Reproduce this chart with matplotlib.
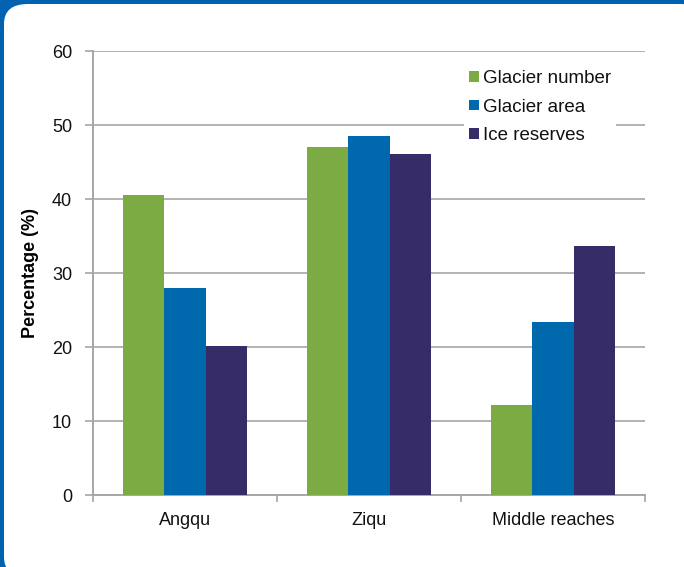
import matplotlib.pyplot as plt
import numpy as np
from matplotlib.patches import FancyBboxPatch

plt.rcParams['font.family'] = ['Liberation Sans', 'DejaVu Sans']
plt.rcParams['text.color'] = '#111111'
plt.rcParams['xtick.labelcolor'] = '#111111'
plt.rcParams['ytick.labelcolor'] = '#111111'

categories = ['Angqu', 'Ziqu', 'Middle reaches']
glacier_number = [40.6, 47.0, 12.2]
glacier_area = [28.0, 48.5, 23.4]
ice_reserves = [20.2, 46.1, 33.6]
series = ['Glacier number', 'Glacier area', 'Ice reserves']
colors = ['#7cab43', '#0068ad', '#362c68']

fig = plt.figure(figsize=(6.84, 5.67), dpi=100)
fig.patch.set_facecolor('#0062b0')

# white rounded panel
panel = FancyBboxPatch((4 / 684, -10 / 567), 700 / 684, 573 / 567,
                       boxstyle='round,pad=0,rounding_size=0.035',
                       transform=fig.transFigure, facecolor='white',
                       edgecolor='none', zorder=-5)
fig.patches.append(panel)

ax = fig.add_axes([93 / 684, 72 / 567, 552 / 684, 444 / 567])
ax.set_facecolor('none')

x = np.arange(len(categories))
w = 0.223
for i, (vals, name) in enumerate(zip([glacier_number, glacier_area, ice_reserves], series)):
    ax.bar(x + (i - 1) * w, vals, width=w, color=colors[i], label=name, zorder=3)

ax.set_xlim(-0.5, 2.5)
ax.set_ylim(0, 60)
ax.set_yticks(range(0, 61, 10))
ax.yaxis.grid(True, color='#a6a6a6', linewidth=1.2, zorder=0)
ax.set_axisbelow(True)

ax.set_xticks(x)
ax.set_xticklabels(categories)
ax.tick_params(axis='x', length=0, pad=12, labelsize=13)
ax.set_xticks([-0.5, 0.5, 1.5, 2.5], minor=True)
ax.tick_params(axis='x', which='minor', length=5, color='#a6a6a6', width=1.2)
ax.tick_params(axis='y', length=6, color='#a6a6a6', width=1.2, labelsize=13, pad=9)

for s in ['top', 'right']:
    ax.spines[s].set_visible(False)
for s in ['left', 'bottom']:
    ax.spines[s].set_color('#a6a6a6')
    ax.spines[s].set_linewidth(1.4)

ax.set_ylabel('Percentage (%)', fontsize=13, fontweight='bold', labelpad=9)

leg = ax.legend(loc='upper right', bbox_to_anchor=(0.965, 0.99), frameon=True,
                fancybox=False, edgecolor='none', facecolor='white', framealpha=1,
                fontsize=13.5, handlelength=0.5, handleheight=0.5, handletextpad=0.2,
                labelspacing=0.6, borderpad=0.3)

fig.savefig('out.png', dpi=100)
